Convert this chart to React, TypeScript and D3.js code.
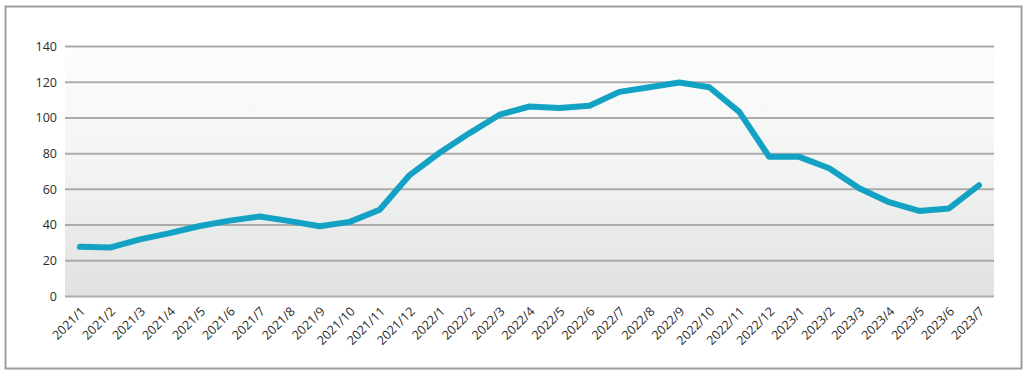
import React from "react";
import * as d3 from "d3";

const categories: string[] = [
  "2021/1","2021/2","2021/3","2021/4","2021/5","2021/6","2021/7","2021/8","2021/9","2021/10","2021/11","2021/12",
  "2022/1","2022/2","2022/3","2022/4","2022/5","2022/6","2022/7","2022/8","2022/9","2022/10","2022/11","2022/12",
  "2023/1","2023/2","2023/3","2023/4","2023/5","2023/6","2023/7",
];
const values: number[] = [
  27.8, 27.4, 32, 35.5, 39.5, 42.5, 44.8, 42.2, 39.3, 41.8, 48.6, 68,
  80.5, 91.5, 101.8, 106.4, 105.6, 106.8, 114.6, 117.2, 119.8, 117.2, 103.4, 78.2,
  78.2, 71.8, 60.6, 52.8, 47.9, 49.3, 62.3,
];
const yTicks: number[] = [0, 20, 40, 60, 80, 100, 120, 140];

const W = 1024;
const H = 374;
const plot = { left: 65, right: 994, top: 46.5, bottom: 296.5 };

export default function App() {
  const x = d3.scaleBand<string>().domain(categories).range([plot.left, plot.right]);
  const y = d3.scaleLinear().domain([0, 140]).range([plot.bottom, plot.top]);
  const line = d3
    .line<number>()
    .x((_, i) => (x(categories[i]) as number) + x.bandwidth() / 2)
    .y((d) => y(d));

  return (
    <svg width={W} height={H} style={{ position: "absolute", left: 0, top: 0, background: "#fff" }}>
      <defs>
        <linearGradient id="bg" x1="0" y1="0" x2="0" y2="1">
          <stop offset="0%" stopColor="#fdfdfd" />
          <stop offset="50%" stopColor="#f2f3f3" />
          <stop offset="100%" stopColor="#e0e1e1" />
        </linearGradient>
      </defs>
      <rect x={5.5} y={6.5} width={1016} height={362} fill="#fff" stroke="#9d9d9d" strokeWidth={2} />
      <rect x={plot.left} y={plot.top} width={plot.right - plot.left} height={plot.bottom - plot.top} fill="url(#bg)" />
      {yTicks.map((t) => (
        <g key={t}>
          <line x1={plot.left} x2={plot.right} y1={y(t)} y2={y(t)} stroke="#ababab" strokeWidth={2} />
          <text
            x={57}
            y={y(t)}
            dy="0.35em"
            textAnchor="end"
            fontFamily="'Open Sans', 'Liberation Sans', sans-serif"
            fontSize={12.5}
            fill="#2b2b2b"
          >
            {t}
          </text>
        </g>
      ))}
      <path d={line(values) || ""} fill="none" stroke="#13a2c3" strokeWidth={6} strokeLinejoin="round" strokeLinecap="round" />
      {categories.map((c) => {
        const cx = (x(c) as number) + x.bandwidth() / 2 + 3;
        const cy = 309;
        return (
          <text
            key={c}
            x={cx}
            y={cy}
            transform={`rotate(-45 ${cx} ${cy})`}
            textAnchor="end"
            dy="0.35em"
            fontFamily="'Open Sans', 'Liberation Sans', sans-serif"
            fontSize={12.5}
            fill="#2b2b2b"
          >
            {c}
          </text>
        );
      })}
    </svg>
  );
}
